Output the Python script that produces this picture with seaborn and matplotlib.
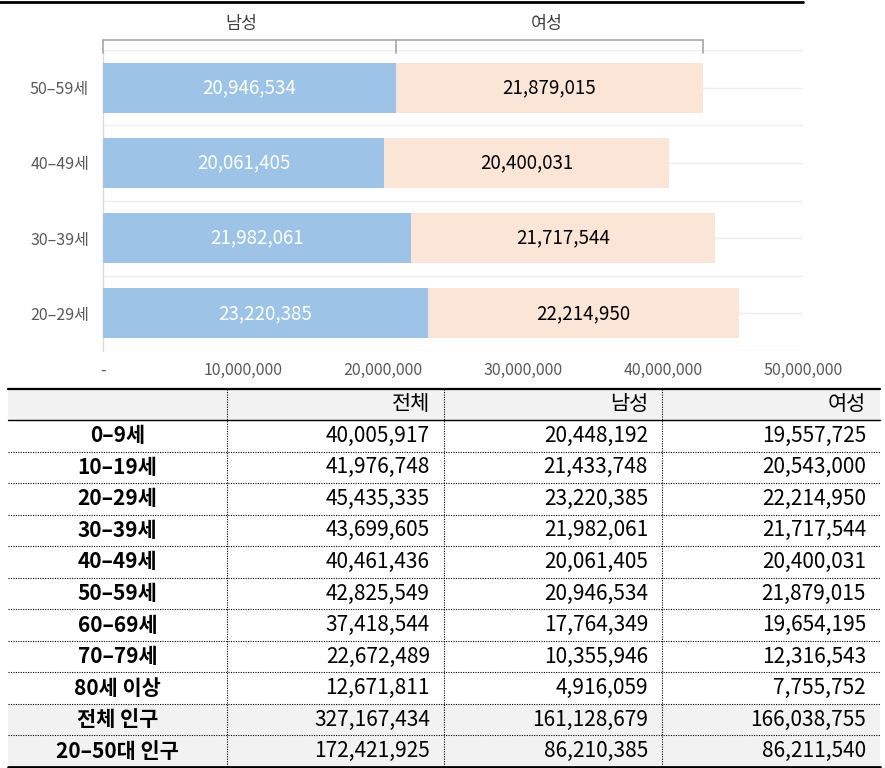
import matplotlib
matplotlib.use('Agg')
import matplotlib.pyplot as plt
import seaborn as sns
import pandas as pd
import numpy as np
from matplotlib.ticker import FuncFormatter

# ---------------- data ----------------
age_groups = ['0–9세', '10–19세', '20–29세', '30–39세', '40–49세', '50–59세',
              '60–69세', '70–79세', '80세 이상', '전체 인구', '20–50대 인구']
total_pop = [40005917, 41976748, 45435335, 43699605, 40461436, 42825549,
             37418544, 22672489, 12671811, 327167434, 172421925]
male_pop = [20448192, 21433748, 23220385, 21982061, 20061405, 20946534,
            17764349, 10355946, 4916059, 161128679, 86210385]
female_pop = [19557725, 20543000, 22214950, 21717544, 20400031, 21879015,
              19654195, 12316543, 7755752, 166038755, 86211540]
table_headers = ['', '전체', '남성', '여성']
chart_groups = ['50–59세', '40–49세', '30–39세', '20–29세']
series_labels = ['남성', '여성']
x_ticks = [0, 10000000, 20000000, 30000000, 40000000, 50000000]

male_color = '#9dc3e6'
female_color = '#fbe5d6'

# ---------------- setup ----------------
sns.set_theme(style='white')
plt.rcParams['font.family'] = ['Noto Sans CJK KR', 'DejaVu Sans']

W, H = 885, 768
fig = plt.figure(figsize=(W / 100, H / 100), dpi=100)

# background axes in pixel coordinates (table + top rule)
bg = fig.add_axes([0, 0, 1, 1], zorder=0)
bg.set_xlim(0, W)
bg.set_ylim(H, 0)
bg.axis('off')

# ---------------- chart ----------------
ax = fig.add_axes([103 / W, 1 - 351 / H, 700 / W, 301 / H], zorder=2)
ax.patch.set_alpha(0)

full = pd.DataFrame({'group': age_groups, 'male': male_pop, 'female': female_pop})
df = full.set_index('group').loc[chart_groups].reset_index()
df['stack'] = df['male'] + df['female']

for v in np.arange(-0.5, len(chart_groups) - 0.49, 0.5):
    ax.axhline(v, color='#eeeeee', lw=1, zorder=0)

sns.barplot(data=df, x='stack', y='group', order=chart_groups, color=female_color,
            saturation=1, width=0.667, edgecolor='none', ax=ax, zorder=2)
sns.barplot(data=df, x='male', y='group', order=chart_groups, color=male_color,
            saturation=1, width=0.667, edgecolor='none', ax=ax, zorder=3)

ax.set_xlim(x_ticks[0], x_ticks[-1])
ax.set_ylim(len(chart_groups) - 0.5, -0.5)
ax.set_xlabel('')
ax.set_ylabel('')
ax.set_xticks(x_ticks)
ax.xaxis.set_major_formatter(FuncFormatter(lambda v, p: '-' if v == 0 else f'{int(v):,}'))
ax.tick_params(axis='x', length=0, pad=8, labelsize=11.5, labelcolor='#595959')
ax.tick_params(axis='y', length=0, pad=10, labelsize=11.5, labelcolor='#595959')
for s in ['top', 'right', 'bottom']:
    ax.spines[s].set_visible(False)
ax.spines['left'].set_color('#d9d9d9')
ax.spines['left'].set_linewidth(1)

for i, row in df.iterrows():
    ax.text(row['male'] / 2, i, f"{row['male']:,}", ha='center', va='center',
            color='white', fontsize=13.5, zorder=5)
    ax.text(row['male'] + row['female'] / 2, i, f"{row['female']:,}", ha='center',
            va='center', color='black', fontsize=13.5, zorder=5)

# bracket above the top bar
top = df.iloc[0]
yb, yt = -0.633, -0.46
bk = dict(color='#a6a6a6', lw=1.2, clip_on=False, zorder=4)
ax.plot([0, top['stack']], [yb, yb], **bk)
for xv in [0, top['male'], top['stack']]:
    ax.plot([xv, xv], [yb, yt], **bk)
ax.text(top['male'] / 2 - 0.6e6, -0.85, series_labels[0], ha='center', va='center',
        fontsize=12.5, color='#404040', clip_on=False)
ax.text(top['male'] + top['female'] / 2 - 0.2e6, -0.85, series_labels[1], ha='center',
        va='center', fontsize=12.5, color='#404040', clip_on=False)

# top rule
bg.plot([0, 803], [2, 2], color='black', lw=2)

# ---------------- table ----------------
tx0, tx1 = 8, 880
col_edges = [tx0, 227, 444, 662, tx1]
t_top, h_bot, t_bot = 389, 420, 767
n = len(age_groups)
rh = (t_bot - h_bot) / n
gray = '#f2f2f2'

bg.add_patch(plt.Rectangle((tx0, t_top), tx1 - tx0, h_bot - t_top, color=gray, lw=0))
for i in [n - 2, n - 1]:
    bg.add_patch(plt.Rectangle((tx0, h_bot + i * rh), tx1 - tx0, rh, color=gray, lw=0))

bg.plot([tx0, tx1], [t_top, t_top], color='black', lw=1.6)
bg.plot([tx0, tx1], [h_bot, h_bot], color='black', lw=1.0)
bg.plot([tx0, tx1], [t_bot, t_bot], color='black', lw=2)
for i in range(1, n):
    y = h_bot + i * rh
    bg.plot([tx0, tx1], [y, y], color='black', lw=0.8, ls=(0, (1, 1.2)))
for xv in col_edges[1:-1]:
    bg.plot([xv, xv], [t_top, t_bot], color='black', lw=0.8, ls=(0, (1, 1.2)))

fs = 15
hy = (t_top + h_bot) / 2
for j in range(1, 4):
    bg.text(col_edges[j + 1] - 14, hy, table_headers[j], ha='right', va='center',
            fontsize=fs, color='black')

for i in range(n):
    y = h_bot + (i + 0.5) * rh
    bg.text((col_edges[0] + col_edges[1]) / 2, y, age_groups[i], ha='center', va='center',
            fontsize=fs, fontweight='bold', color='black')
    for j, vals in enumerate([total_pop, male_pop, female_pop]):
        bg.text(col_edges[j + 2] - 14, y, f'{vals[i]:,}', ha='right', va='center',
                fontsize=fs, color='black')

fig.savefig('out.png', dpi=100)
